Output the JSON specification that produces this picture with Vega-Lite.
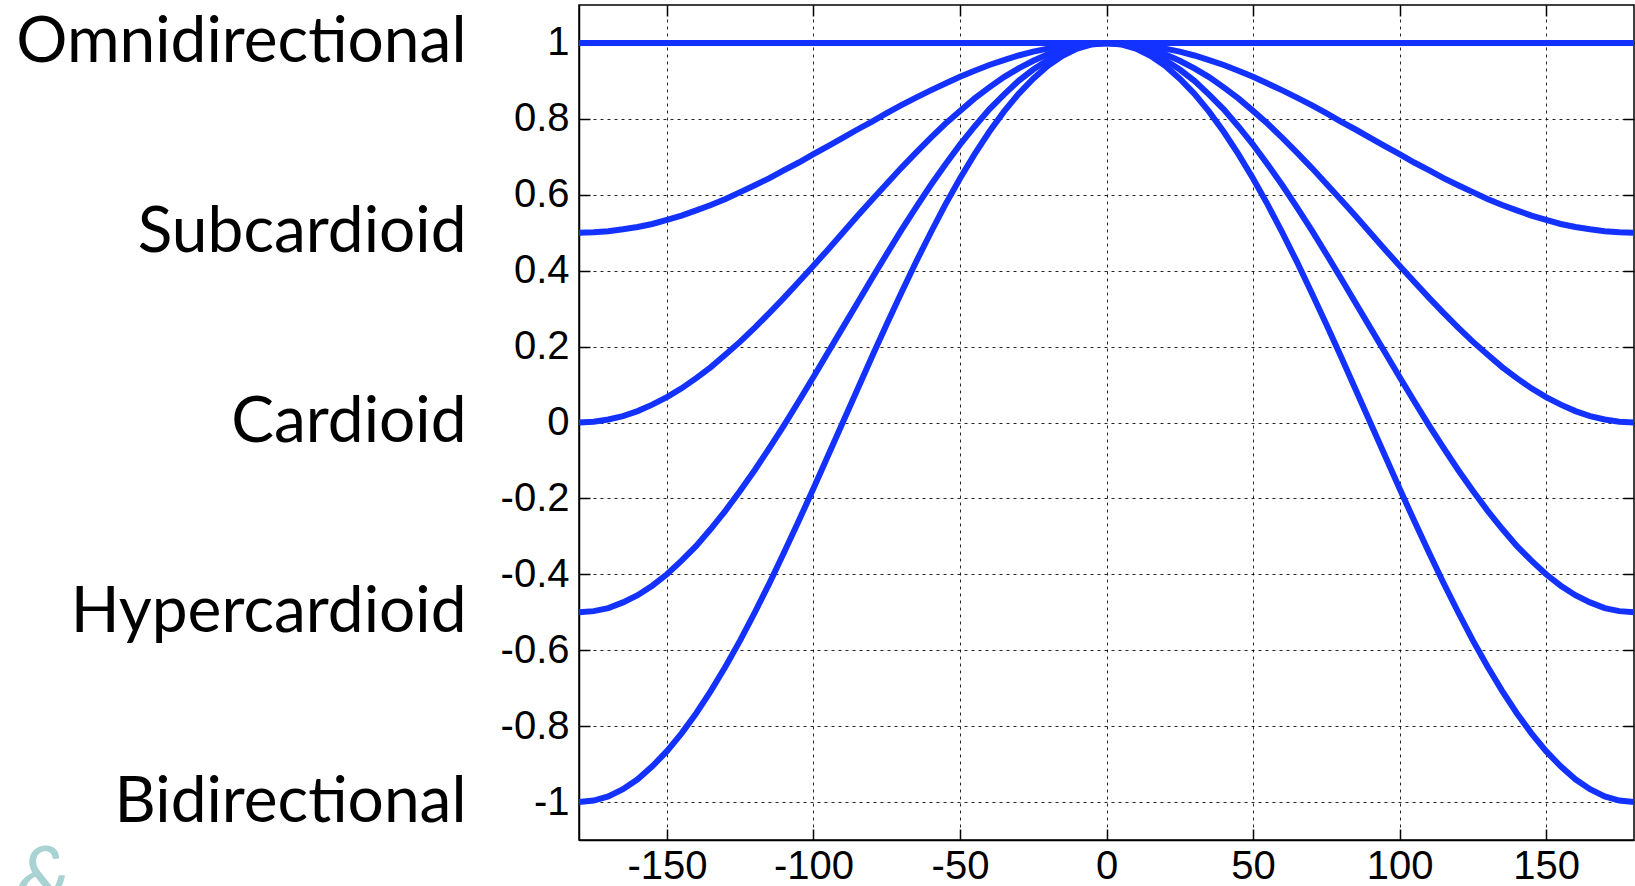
{
 "$schema": "https://vega.github.io/schema/vega-lite/v6.json",
 "autosize": "none",
 "width": 1055,
 "height": 835,
 "padding": {"left": 579, "top": 5, "right": 1, "bottom": 46},
 "background": "white",
 "config": {"view": {"stroke": "#000", "strokeWidth": 1.5}, "font": "Liberation Sans"},
 "title": {"text": "&", "orient": "bottom", "anchor": "start", "frame": "bounds", "color": "#a9d2d2", "fontSize": 84, "font": "Lato", "fontStyle": "italic", "fontWeight": "normal", "offset": -46},
 "datasets": {
  "d": [
   {"a":-180,"O":1,"S":0.5,"C":0,"H":-0.5,"B":-1},
   {"a":-175,"O":1,"S":0.501,"C":0.002,"H":-0.497,"B":-0.996},
   {"a":-170,"O":1,"S":0.504,"C":0.008,"H":-0.489,"B":-0.985},
   {"a":-165,"O":1,"S":0.509,"C":0.017,"H":-0.474,"B":-0.966},
   {"a":-160,"O":1,"S":0.515,"C":0.030,"H":-0.455,"B":-0.940},
   {"a":-155,"O":1,"S":0.523,"C":0.047,"H":-0.430,"B":-0.906},
   {"a":-150,"O":1,"S":0.534,"C":0.067,"H":-0.400,"B":-0.866},
   {"a":-145,"O":1,"S":0.545,"C":0.090,"H":-0.364,"B":-0.819},
   {"a":-140,"O":1,"S":0.559,"C":0.117,"H":-0.325,"B":-0.766},
   {"a":-135,"O":1,"S":0.573,"C":0.146,"H":-0.280,"B":-0.707},
   {"a":-130,"O":1,"S":0.589,"C":0.179,"H":-0.232,"B":-0.643},
   {"a":-125,"O":1,"S":0.607,"C":0.213,"H":-0.180,"B":-0.574},
   {"a":-120,"O":1,"S":0.625,"C":0.25,"H":-0.125,"B":-0.5},
   {"a":-115,"O":1,"S":0.644,"C":0.289,"H":-0.067,"B":-0.423},
   {"a":-110,"O":1,"S":0.665,"C":0.329,"H":-0.007,"B":-0.342},
   {"a":-105,"O":1,"S":0.685,"C":0.371,"H":0.056,"B":-0.259},
   {"a":-100,"O":1,"S":0.707,"C":0.413,"H":0.120,"B":-0.174},
   {"a":-95,"O":1,"S":0.728,"C":0.456,"H":0.185,"B":-0.087},
   {"a":-90,"O":1,"S":0.75,"C":0.5,"H":0.25,"B":0},
   {"a":-85,"O":1,"S":0.772,"C":0.544,"H":0.315,"B":0.087},
   {"a":-80,"O":1,"S":0.793,"C":0.587,"H":0.380,"B":0.174},
   {"a":-75,"O":1,"S":0.815,"C":0.629,"H":0.444,"B":0.259},
   {"a":-70,"O":1,"S":0.836,"C":0.671,"H":0.507,"B":0.342},
   {"a":-65,"O":1,"S":0.856,"C":0.711,"H":0.567,"B":0.423},
   {"a":-60,"O":1,"S":0.875,"C":0.75,"H":0.625,"B":0.5},
   {"a":-55,"O":1,"S":0.893,"C":0.787,"H":0.680,"B":0.574},
   {"a":-50,"O":1,"S":0.911,"C":0.821,"H":0.732,"B":0.643},
   {"a":-45,"O":1,"S":0.927,"C":0.854,"H":0.780,"B":0.707},
   {"a":-40,"O":1,"S":0.942,"C":0.883,"H":0.825,"B":0.766},
   {"a":-35,"O":1,"S":0.955,"C":0.910,"H":0.864,"B":0.819},
   {"a":-30,"O":1,"S":0.967,"C":0.933,"H":0.900,"B":0.866},
   {"a":-25,"O":1,"S":0.977,"C":0.953,"H":0.930,"B":0.906},
   {"a":-20,"O":1,"S":0.985,"C":0.970,"H":0.955,"B":0.940},
   {"a":-15,"O":1,"S":0.991,"C":0.983,"H":0.974,"B":0.966},
   {"a":-10,"O":1,"S":0.996,"C":0.992,"H":0.989,"B":0.985},
   {"a":-5,"O":1,"S":0.999,"C":0.998,"H":0.997,"B":0.996},
   {"a":0,"O":1,"S":1,"C":1,"H":1,"B":1},
   {"a":5,"O":1,"S":0.999,"C":0.998,"H":0.997,"B":0.996},
   {"a":10,"O":1,"S":0.996,"C":0.992,"H":0.989,"B":0.985},
   {"a":15,"O":1,"S":0.991,"C":0.983,"H":0.974,"B":0.966},
   {"a":20,"O":1,"S":0.985,"C":0.970,"H":0.955,"B":0.940},
   {"a":25,"O":1,"S":0.977,"C":0.953,"H":0.930,"B":0.906},
   {"a":30,"O":1,"S":0.967,"C":0.933,"H":0.900,"B":0.866},
   {"a":35,"O":1,"S":0.955,"C":0.910,"H":0.864,"B":0.819},
   {"a":40,"O":1,"S":0.942,"C":0.883,"H":0.825,"B":0.766},
   {"a":45,"O":1,"S":0.927,"C":0.854,"H":0.780,"B":0.707},
   {"a":50,"O":1,"S":0.911,"C":0.821,"H":0.732,"B":0.643},
   {"a":55,"O":1,"S":0.893,"C":0.787,"H":0.680,"B":0.574},
   {"a":60,"O":1,"S":0.875,"C":0.75,"H":0.625,"B":0.5},
   {"a":65,"O":1,"S":0.856,"C":0.711,"H":0.567,"B":0.423},
   {"a":70,"O":1,"S":0.836,"C":0.671,"H":0.507,"B":0.342},
   {"a":75,"O":1,"S":0.815,"C":0.629,"H":0.444,"B":0.259},
   {"a":80,"O":1,"S":0.793,"C":0.587,"H":0.380,"B":0.174},
   {"a":85,"O":1,"S":0.772,"C":0.544,"H":0.315,"B":0.087},
   {"a":90,"O":1,"S":0.75,"C":0.5,"H":0.25,"B":0},
   {"a":95,"O":1,"S":0.728,"C":0.456,"H":0.185,"B":-0.087},
   {"a":100,"O":1,"S":0.707,"C":0.413,"H":0.120,"B":-0.174},
   {"a":105,"O":1,"S":0.685,"C":0.371,"H":0.056,"B":-0.259},
   {"a":110,"O":1,"S":0.665,"C":0.329,"H":-0.007,"B":-0.342},
   {"a":115,"O":1,"S":0.644,"C":0.289,"H":-0.067,"B":-0.423},
   {"a":120,"O":1,"S":0.625,"C":0.25,"H":-0.125,"B":-0.5},
   {"a":125,"O":1,"S":0.607,"C":0.213,"H":-0.180,"B":-0.574},
   {"a":130,"O":1,"S":0.589,"C":0.179,"H":-0.232,"B":-0.643},
   {"a":135,"O":1,"S":0.573,"C":0.146,"H":-0.280,"B":-0.707},
   {"a":140,"O":1,"S":0.559,"C":0.117,"H":-0.325,"B":-0.766},
   {"a":145,"O":1,"S":0.545,"C":0.090,"H":-0.364,"B":-0.819},
   {"a":150,"O":1,"S":0.534,"C":0.067,"H":-0.400,"B":-0.866},
   {"a":155,"O":1,"S":0.523,"C":0.047,"H":-0.430,"B":-0.906},
   {"a":160,"O":1,"S":0.515,"C":0.030,"H":-0.455,"B":-0.940},
   {"a":165,"O":1,"S":0.509,"C":0.017,"H":-0.474,"B":-0.966},
   {"a":170,"O":1,"S":0.504,"C":0.008,"H":-0.489,"B":-0.985},
   {"a":175,"O":1,"S":0.501,"C":0.002,"H":-0.497,"B":-0.996},
   {"a":180,"O":1,"S":0.5,"C":0,"H":-0.5,"B":-1}
  ]
 },
 "data": {"name": "d"},
 "transform": [{"fold": ["O", "S", "C", "H", "B"], "as": ["k", "v"]}],
 "resolve": {"axis": {"x": "independent", "y": "independent"}},
 "layer": [
  {
   "mark": {"type": "line", "color": "#1432ff", "strokeWidth": 6, "clip": true},
   "encoding": {
    "x": {"field": "a", "type": "quantitative", "scale": {"domain": [-180, 180], "nice": false, "zero": false},
     "axis": {"orient": "bottom", "title": null, "values": [-150, -100, -50, 0, 50, 100, 150], "labelExpr": "'' + datum.value",
      "tickSize": -11, "tickColor": "#000", "tickWidth": 1.5, "domain": true, "domainColor": "#000", "domainWidth": 1.5,
      "labelFont": "Liberation Sans", "labelFontSize": 40, "labelColor": "#000", "labelPadding": 17, "labelFlush": false, "labelOverlap": false,
      "grid": true, "gridColor": "#000", "gridDash": [3, 4], "gridWidth": 1, "gridOpacity": 0.85}},
    "y": {"field": "v", "type": "quantitative", "scale": {"domain": [-1.1, 1.1], "nice": false, "zero": false},
     "axis": {"orient": "left", "title": null, "values": [-1, -0.8, -0.6, -0.4, -0.2, 0, 0.2, 0.4, 0.6, 0.8, 1], "labelExpr": "'' + datum.value",
      "tickSize": -11, "tickColor": "#000", "tickWidth": 1.5, "domain": true, "domainColor": "#000", "domainWidth": 1.5,
      "labelFont": "Liberation Sans", "labelFontSize": 40, "labelColor": "#000", "labelPadding": 21, "labelFlush": false, "labelOverlap": false,
      "grid": true, "gridColor": "#000", "gridDash": [3, 4], "gridWidth": 1, "gridOpacity": 0.85}},
    "detail": {"field": "k"}
   }
  },
  {
   "mark": {"type": "line", "opacity": 0},
   "encoding": {
    "x": {"field": "a", "type": "quantitative", "scale": {"domain": [-180, 180], "nice": false, "zero": false},
     "axis": {"orient": "top", "title": null, "values": [-150, -100, -50, 0, 50, 100, 150], "labels": false,
      "tickSize": -11, "tickColor": "#000", "tickWidth": 1.5, "domain": false, "grid": false}},
    "y": {"field": "v", "type": "quantitative", "scale": {"domain": [-1.1, 1.1], "nice": false, "zero": false},
     "axis": {"orient": "right", "title": null, "values": [-1, -0.8, -0.6, -0.4, -0.2, 0, 0.2, 0.4, 0.6, 0.8, 1], "labels": false,
      "tickSize": -11, "tickColor": "#000", "tickWidth": 1.5, "domain": false, "grid": false}},
    "detail": {"field": "k"}
   }
  },
  {
   "mark": {"type": "line", "opacity": 0},
   "encoding": {
    "x": {"field": "a", "type": "quantitative", "scale": {"domain": [-180, 180], "nice": false, "zero": false}, "axis": null},
    "y": {"field": "v", "type": "quantitative", "scale": {"domain": [-1.1, 1.1], "nice": false, "zero": false},
     "axis": {"orient": "left", "title": null, "values": [1, 0.5, 0, -0.5, -1],
      "labelExpr": "datum.value == 1 ? 'Omnidirectional' : datum.value == 0.5 ? 'Subcardioid' : datum.value == 0 ? 'Cardioid' : datum.value == -0.5 ? 'Hypercardioid' : 'Bidirectional'",
      "ticks": false, "domain": false, "grid": false,
      "labelFont": "Lato", "labelFontSize": 64, "labelColor": "#000", "labelPadding": 113, "labelLimit": 0, "labelFlush": false, "labelOverlap": false}},
    "detail": {"field": "k"}
   }
  }
 ]
}
